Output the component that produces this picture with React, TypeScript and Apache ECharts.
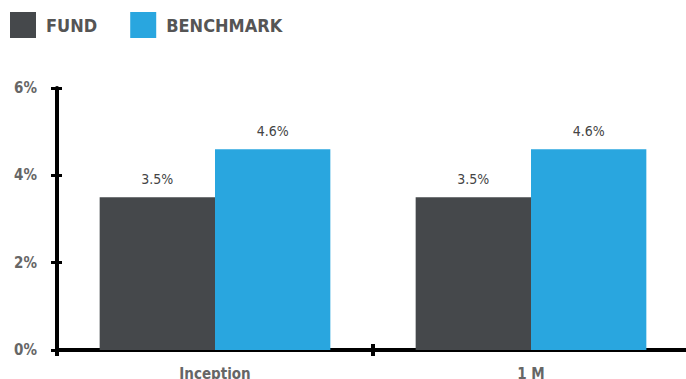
import React, { useEffect, useRef } from "react";
import * as echarts from "echarts";

const categories = ["Inception", "1 M"];
const fundValues = [3.5, 3.5];
const benchmarkValues = [4.6, 4.6];
const seriesNames = ["FUND", "BENCHMARK"];
const yTicks = [0, 2, 4, 6];

const FONT = "'DejaVu Sans Condensed', 'Roboto', sans-serif";

export default function App() {
  const ref = useRef<HTMLDivElement>(null);
  useEffect(() => {
    document.body.style.margin = "0";
    const chart = echarts.init(ref.current!, null, { renderer: "svg" });
    const yBase = {
      type: "value" as const,
      min: yTicks[0],
      max: yTicks[yTicks.length - 1],
      interval: 2,
      position: "left" as const,
      splitLine: { show: false },
    };
    const xBase = {
      type: "category" as const,
      data: categories,
      position: "bottom" as const,
      boundaryGap: true,
    };
    chart.setOption({
      animation: false,
      textStyle: { fontFamily: FONT },
      legend: {
        left: 5,
        top: 7,
        itemWidth: 26,
        itemHeight: 26,
        itemGap: 33,
        icon: "rect",
        data: seriesNames,
        textStyle: {
          fontFamily: FONT,
          fontSize: 18,
          fontWeight: "bold",
          color: "#555",
          padding: [0, 0, 0, 5],
        },
      },
      grid: {
        left: 57,
        top: 88,
        width: 632,
        height: 262,
        containLabel: false,
        outerBoundsMode: "none",
      },
      xAxis: [
        {
          ...xBase,
          axisLine: { show: true, lineStyle: { color: "#000", width: 4 } },
          axisTick: { show: true, inside: false, length: 6, lineStyle: { color: "#000", width: 4 } },
          axisLabel: {
            margin: 16,
            fontFamily: FONT,
            fontSize: 15,
            fontWeight: "bold",
            color: "#666",
          },
        },
        {
          ...xBase,
          axisLine: { show: false },
          axisTick: { show: true, inside: true, length: 6, lineStyle: { color: "#000", width: 4 } },
          axisLabel: { show: false },
        },
      ],
      yAxis: [
        {
          ...yBase,
          axisLine: { show: true, lineStyle: { color: "#000", width: 4 } },
          axisTick: { show: true, inside: false, length: 6, lineStyle: { color: "#000", width: 3 } },
          axisLabel: {
            margin: 20,
            fontFamily: FONT,
            fontSize: 15,
            fontWeight: "bold",
            color: "#666",
            formatter: "{value}%",
          },
        },
        {
          ...yBase,
          axisLine: { show: false },
          axisTick: { show: true, inside: true, length: 5, lineStyle: { color: "#000", width: 3 } },
          axisLabel: { show: false },
        },
      ],
      series: [
        {
          name: seriesNames[0],
          type: "bar",
          data: fundValues,
          barGap: "0%",
          barCategoryGap: "27%",
          itemStyle: { color: "#45484b" },
          label: {
            show: true,
            position: "top",
            distance: 11,
            formatter: (p: any) => p.value.toFixed(1) + "%",
            fontFamily: FONT,
            fontSize: 14,
            color: "#444",
          },
        },
        {
          name: seriesNames[1],
          type: "bar",
          data: benchmarkValues,
          itemStyle: { color: "#29a6df" },
          label: {
            show: true,
            position: "top",
            distance: 11,
            formatter: (p: any) => p.value.toFixed(1) + "%",
            fontFamily: FONT,
            fontSize: 14,
            color: "#444",
          },
        },
      ],
    });
    return () => chart.dispose();
  }, []);
  return <div ref={ref} style={{ width: 686, height: 379 }} />;
}
